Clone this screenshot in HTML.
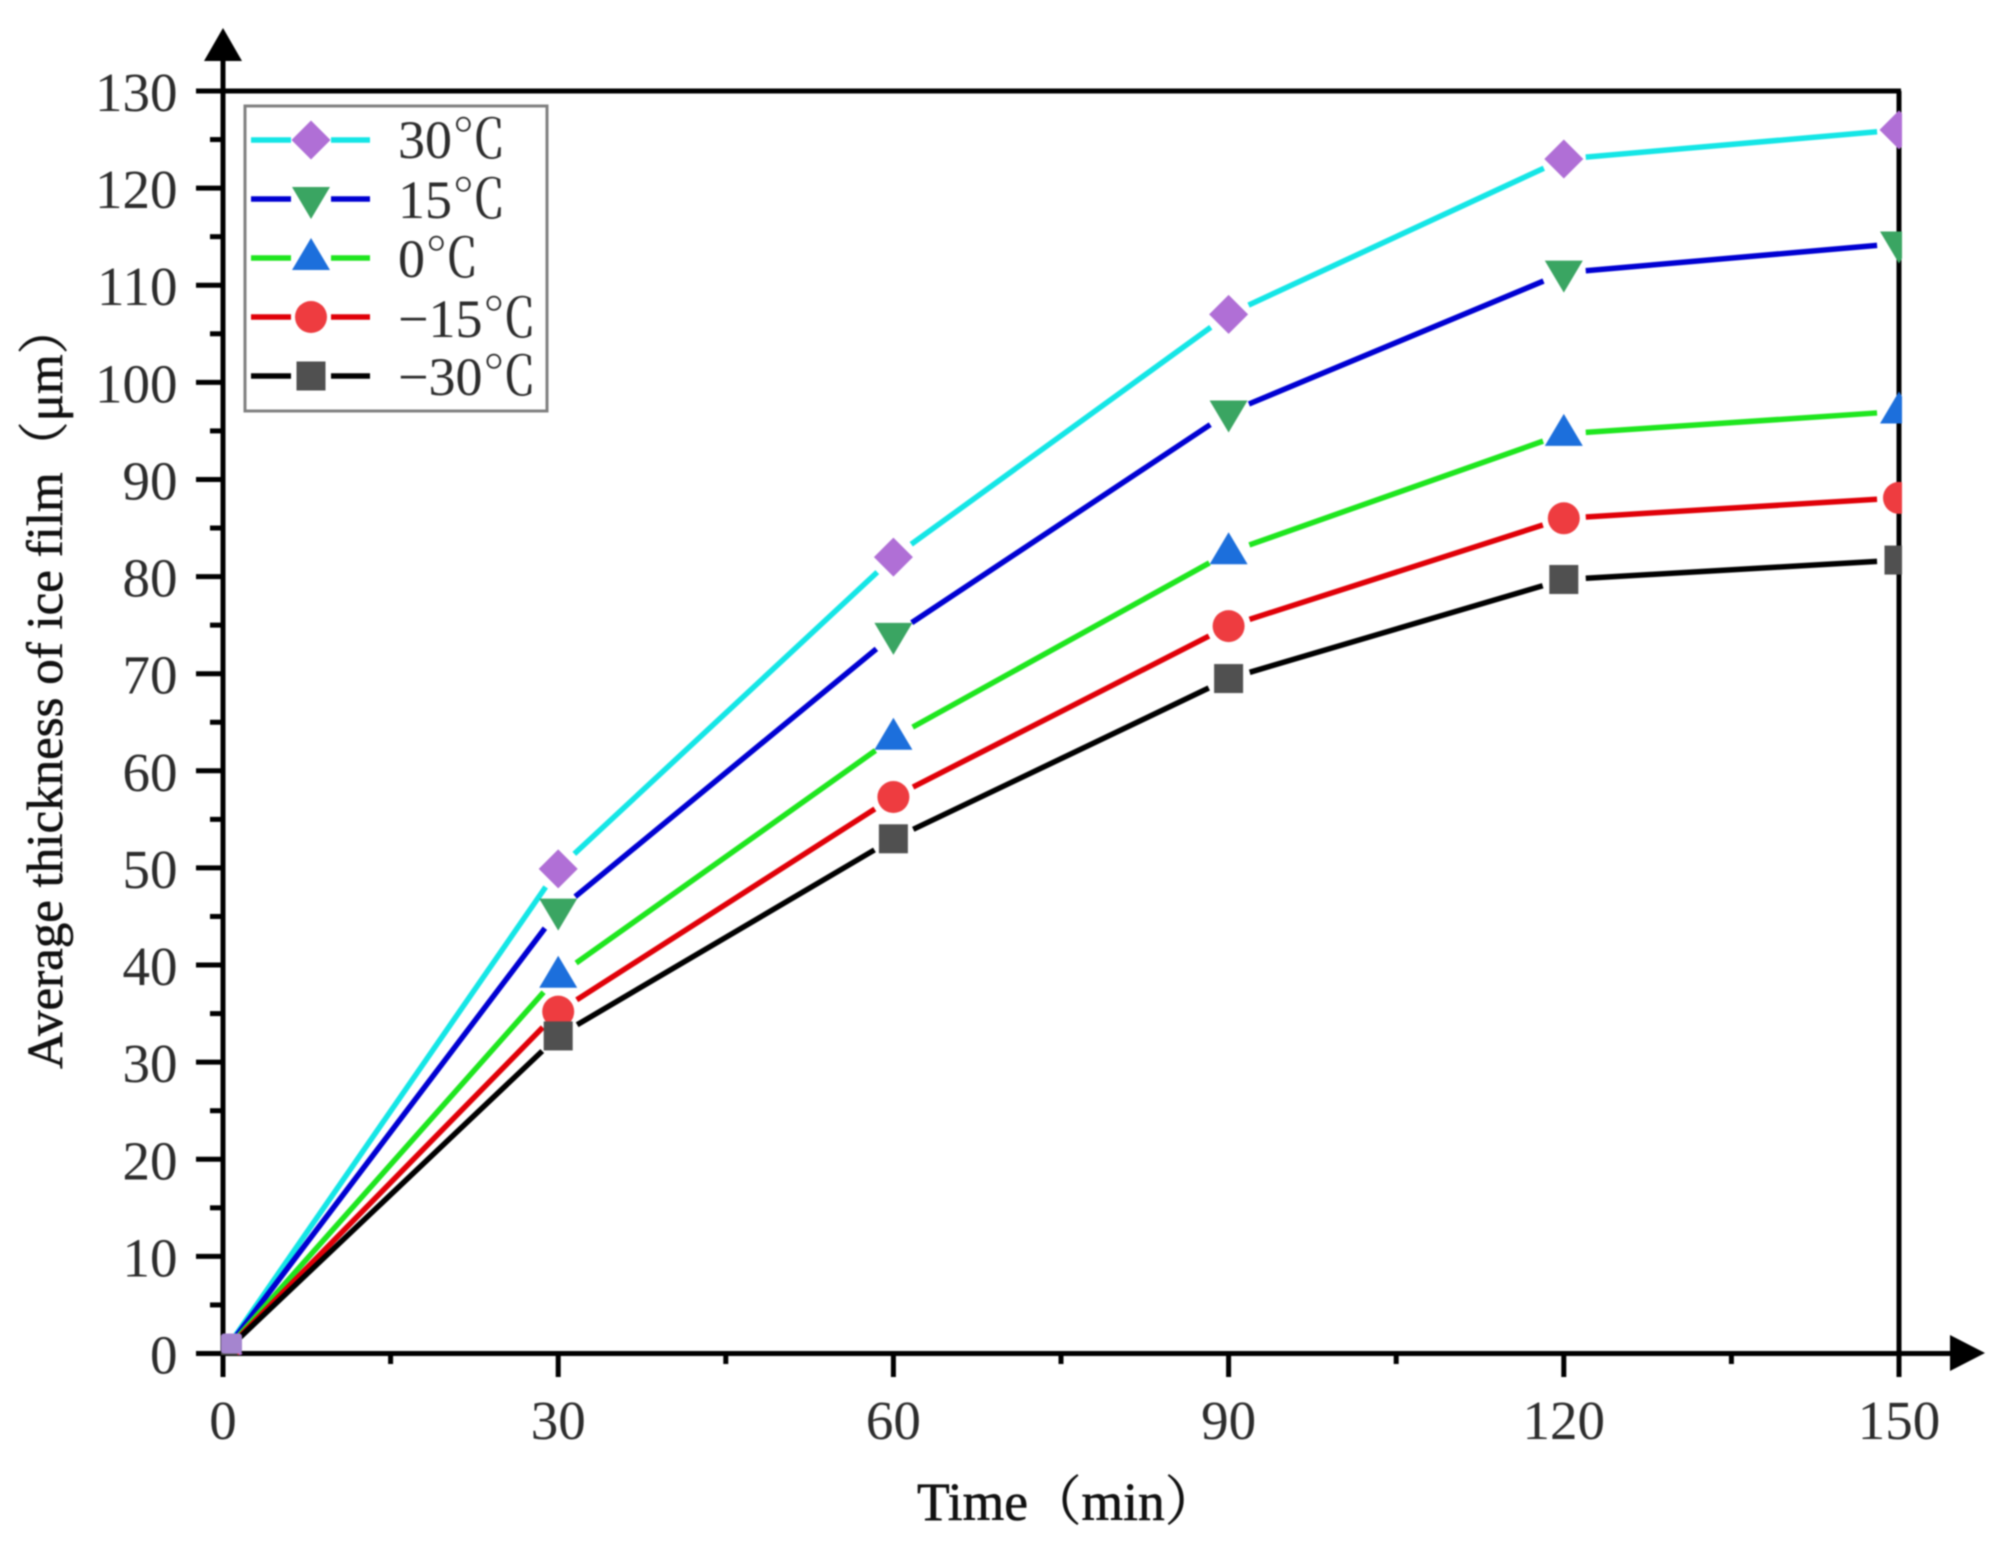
<!DOCTYPE html>
<html lang="en">
<head>
<meta charset="utf-8">
<title>Average thickness of ice film over time</title>
<style>
html,body{margin:0;padding:0;background:#fff;}
svg{display:block;filter:blur(0.7px);}
text{font-family:"Liberation Serif","Noto Serif CJK SC",serif;fill:#2c2c2c;}
.title{fill:#111;stroke:#111;stroke-width:0.6px;}
</style>
</head>
<body>
<svg id="chart" xmlns="http://www.w3.org/2000/svg" width="2011" height="1563" viewBox="0 0 2011 1563">
  <defs>
    <clipPath id="plot-clip"><rect x="221" y="60" width="1681" height="1295"/></clipPath>
  </defs>
  <rect x="0" y="0" width="2011" height="1563" fill="#ffffff"/>
  <g id="axes"></g>
  <g id="series"></g>
  <text class="title" x="917" y="1520" font-size="53.5">Time（min）</text>
  <text class="title" transform="translate(62,1069) rotate(-90)" x="0" y="0" font-size="51">Average thickness of ice film（μm）</text>
  <g id="legend"></g>
</svg>
<script>
const times = [0, 30, 60, 90, 120, 150];
const seriesNames = ['30℃', '15℃', '0℃', '−15℃', '−30℃'];
const values30 = [0, 49.9, 82, 107, 123, 126];
const values15 = [0, 45.6, 74, 96.9, 111.3, 114.3];
const values0 = [0, 38.9, 63.4, 82.5, 94.7, 97];
const valuesMinus15 = [0, 35.2, 57.3, 74.9, 86, 88.1];
const valuesMinus30 = [0, 32.7, 53, 69.5, 79.7, 81.7];
const yMajorTicks = [0, 10, 20, 30, 40, 50, 60, 70, 80, 90, 100, 110, 120, 130];
const yMinorTicks = [5, 15, 25, 35, 45, 55, 65, 75, 85, 95, 105, 115, 125];
const xMajorTicks = [0, 30, 60, 90, 120, 150];
const xMinorTicks = [15, 45, 75, 105, 135];

const NS = 'http://www.w3.org/2000/svg';
const X0 = 223, X1 = 1899, Y0 = 1353.5, Y1 = 91;
const sx = v => X0 + (v - 0) / 150 * (X1 - X0);
const sy = v => Y0 - (v - 0) / 130 * (Y0 - Y1);

const lineColors = ['#14e6e6', '#0000d2', '#1ee61e', '#e00008', '#000000'];
const markerColors = ['#b06fd6', '#3aa562', '#1c6fdc', '#ee3c40', '#505050'];
const markerKinds = ['diamond', 'down', 'up', 'circle', 'square'];
const allValues = [values30, values15, values0, valuesMinus15, valuesMinus30];

const axes = document.getElementById('axes');
const seriesRoot = document.getElementById('series');
const legend = document.getElementById('legend');

function make(tag, parent, props) {
  const el = document.createElementNS(NS, tag);
  for (const k in props) el.setAttribute(k, props[k]);
  parent.appendChild(el);
  return el;
}
function axisLine(x1, y1, x2, y2) {
  return make('line', axes, {x1: x1, y1: y1, x2: x2, y2: y2, stroke: '#000', 'stroke-width': 5});
}
function markerEl(kind, parent, x, y, color) {
  if (kind === 'circle') return make('circle', parent, {cx: x, cy: y, r: 16, fill: color});
  if (kind === 'square') return make('rect', parent, {x: x - 14.5, y: y - 14.5, width: 29, height: 29, fill: color});
  let pts;
  if (kind === 'diamond') pts = [[x, y - 19.5], [x + 19.5, y], [x, y + 19.5], [x - 19.5, y]];
  if (kind === 'down') pts = [[x - 19, y - 12], [x + 19, y - 12], [x, y + 20]];
  if (kind === 'up') pts = [[x - 19, y + 12], [x + 19, y + 12], [x, y - 20]];
  return make('polygon', parent, {points: pts.map(p => p.join(',')).join(' '), fill: color});
}

/* axis frame */
const leftAxis = axisLine(X0, 55, X0, 1377);


const bottomAxis = axisLine(196, Y0, 1955, Y0);


const topAxis = axisLine(196, Y1, X1 + 2, Y1);


const rightAxis = axisLine(X1, Y1, X1, 1377);


const upArrow = make('polygon', axes, {points: '223,28 242,61 204,61', fill: '#000'});


const rightArrow = make('polygon', axes, {points: '1985,1353 1950,1335 1950,1371', fill: '#000'});



/* y ticks */
yMajorTicks.forEach(v => {
  const t = axisLine(196, sy(v), X0, sy(v));
  
  
  const label = make('text', axes, {x: 177.5, y: sy(v) + 20, 'font-size': 55, 'text-anchor': 'end'});
  label.textContent = String(v);
  
  
});
yMinorTicks.forEach(v => {
  const t = axisLine(210, sy(v), X0, sy(v));
  
  
});

/* x ticks */
xMajorTicks.forEach(v => {
  const t = axisLine(sx(v), Y0, sx(v), 1377);
  
  
  const label = make('text', axes, {x: sx(v), y: 1439, 'font-size': 55, 'text-anchor': 'middle'});
  label.textContent = String(v);
  
  
});
xMinorTicks.forEach(v => {
  const t = axisLine(sx(v), Y0, sx(v), 1364);
  
  
});

/* series */
const GAP = 22;
allValues.forEach((vals, si) => {
  const g = make('g', seriesRoot, {});
  
  
  for (let i = 0; i < vals.length - 1; i++) {
    const ax = sx(times[i]), ay = sy(vals[i]), bx = sx(times[i + 1]), by = sy(vals[i + 1]);
    const len = Math.hypot(bx - ax, by - ay);
    const ux = (bx - ax) / len, uy = (by - ay) / len;
    const seg = make('line', g, {
      x1: ax + ux * GAP, y1: ay + uy * GAP, x2: bx - ux * GAP, y2: by - uy * GAP,
      stroke: lineColors[si], 'stroke-width': 5.5
    });
    
    
  }
  const mg = make('g', g, {'clip-path': 'url(#plot-clip)'});
  vals.forEach((v, i) => {
    const m = markerEl(markerKinds[si], mg, sx(times[i]), sy(v), markerColors[si]);
    
    
  });
});

/* overlapping markers at the origin read as one purple blob */
const originValue = allValues.reduce((a, s) => a + s[0], 0) / allValues.length;
const originBlob = make('rect', seriesRoot, {
  x: sx(times[0]) - 2, y: sy(originValue) - 20, width: 21, height: 20, rx: 3, fill: '#a585cf'
});



/* legend */
const legendBox = make('rect', legend, {x: 245, y: 106, width: 302, height: 305, fill: '#fff', stroke: '#808080', 'stroke-width': 3});


const rowY = [140, 199, 258, 317, 376];
const rowBase = [158, 218, 277, 337, 395];
seriesNames.forEach((name, i) => {
  const g = make('g', legend, {});
  
  
  const l1 = make('line', g, {x1: 251, y1: rowY[i], x2: 291, y2: rowY[i], stroke: lineColors[i], 'stroke-width': 5.5});
  
  
  const l2 = make('line', g, {x1: 331, y1: rowY[i], x2: 370, y2: rowY[i], stroke: lineColors[i], 'stroke-width': 5.5});
  
  
  const m = markerEl(markerKinds[i], g, 311, rowY[i], markerColors[i]);
  
  
  const t = make('text', g, {x: 398, y: rowBase[i], 'font-size': 54});
  t.textContent = name;
  
  
});
</script>
</body>
</html>
